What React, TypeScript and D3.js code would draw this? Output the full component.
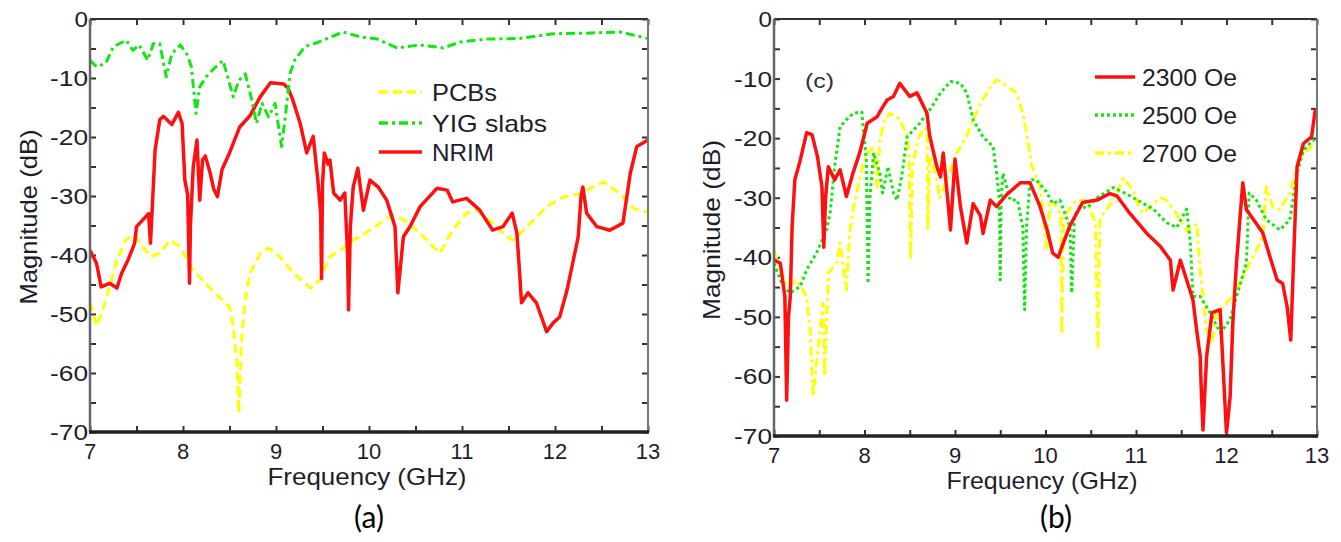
import React, { useEffect, useRef } from 'react'
import * as d3 from 'd3'

// panel (a) series: [GHz, dB]
const pcbsA: [number, number][] = [
  [7, -48], [7.07, -52], [7.14, -49.3], [7.21, -45.4], [7.29, -40.8], [7.38, -37.5], [7.47, -36.5],
  [7.54, -38], [7.65, -40.3], [7.75, -39.7], [7.86, -37.5], [7.97, -38.6], [8.08, -42], [8.24, -44.8],
  [8.38, -47], [8.5, -48.8], [8.54, -52], [8.58, -58.4], [8.6, -66.8], [8.63, -54.4], [8.67, -47.6],
  [8.72, -43.1], [8.83, -39.7], [8.92, -38.8], [9.04, -40.3], [9.19, -43.1], [9.37, -45.6], [9.47, -44.2],
  [9.58, -40.3], [9.69, -39.2], [9.83, -37.5], [10.01, -35.8], [10.25, -33.2], [10.37, -34], [10.55, -36.3],
  [10.69, -38.6], [10.76, -39.7], [10.9, -35.8], [11.05, -32.9], [11.16, -32.4], [11.33, -34.6],
  [11.48, -36.9], [11.55, -37.5], [11.7, -35.2], [11.91, -31.8], [12.09, -30.2], [12.27, -29.6],
  [12.52, -27.6], [12.7, -29.6], [12.84, -32.1], [13, -32.7],
]
const yigA: [number, number][] = [
  [7, -7], [7.07, -8.1], [7.17, -7.5], [7.25, -4.7], [7.39, -3.6], [7.46, -5.3], [7.53, -4.4], [7.62, -7],
  [7.68, -4.2], [7.75, -4.2], [7.82, -9.8], [7.88, -5.9], [7.97, -4.4], [8.04, -5.9], [8.09, -8.1],
  [8.14, -16], [8.18, -11.5], [8.25, -9.8], [8.32, -8.6], [8.43, -7], [8.5, -10.9], [8.54, -13.2],
  [8.6, -10.4], [8.67, -9.3], [8.74, -13.7], [8.79, -17.7], [8.85, -14.3], [8.92, -16.6], [8.99, -14.3],
  [9.06, -21.6], [9.1, -16.6], [9.15, -9.3], [9.2, -7], [9.31, -4.7], [9.46, -3.9], [9.6, -3], [9.72, -2.2],
  [9.9, -3], [10.09, -3.4], [10.3, -4.9], [10.55, -4.4], [10.8, -4.9], [10.98, -3.9], [11.27, -3.4],
  [11.62, -3.3], [11.98, -2.5], [12.34, -2.4], [12.7, -2.2], [13, -3.3],
]
const nrimA: [number, number][] = [
  [7, -39.2], [7.07, -41.4], [7.12, -45.4], [7.21, -44.8], [7.29, -45.6], [7.34, -43.1], [7.41, -40.8],
  [7.48, -38], [7.5, -35.2], [7.57, -34], [7.63, -33], [7.65, -38], [7.67, -31.8], [7.7, -22.2], [7.75, -17.1],
  [7.79, -16.5], [7.88, -17.9], [7.95, -15.8], [7.99, -17.7], [8.02, -27.3], [8.05, -29.8], [8.07, -44.8],
  [8.08, -35], [8.11, -25.1], [8.15, -20.5], [8.18, -30.7], [8.21, -23.9], [8.24, -23.2], [8.29, -26],
  [8.33, -28.8], [8.37, -30.1], [8.42, -25.5], [8.5, -22.7], [8.61, -18.3], [8.72, -16.4], [8.83, -13.2],
  [8.94, -10.8], [9.08, -11], [9.13, -11.7], [9.18, -13.7], [9.26, -17.7], [9.33, -22.7], [9.4, -19.9],
  [9.45, -27.3], [9.48, -32.9], [9.49, -44], [9.5, -28], [9.52, -22.7], [9.56, -24.6], [9.58, -23.9],
  [9.62, -29.5], [9.69, -30.7], [9.74, -29.5], [9.77, -40], [9.78, -49.3], [9.8, -35], [9.83, -28.5],
  [9.88, -25.3], [9.94, -32.4], [10.01, -27.3], [10.1, -28.5], [10.19, -30.7], [10.28, -35.2], [10.31, -46.4],
  [10.37, -36.9], [10.44, -35.2], [10.55, -31.8], [10.73, -28.7], [10.84, -29], [10.9, -31], [11.05, -30.4],
  [11.19, -32.4], [11.33, -35.8], [11.44, -35.2], [11.54, -32.9], [11.59, -36.3], [11.62, -43.1],
  [11.64, -48.1], [11.71, -46.4], [11.8, -48.1], [11.91, -53], [11.98, -51.5], [12.05, -50.5], [12.13, -45.9],
  [12.19, -41.4], [12.25, -36.9], [12.28, -30], [12.3, -28.5], [12.34, -32.9], [12.45, -35.2], [12.59, -35.8],
  [12.73, -34.6], [12.81, -26.1], [12.88, -21.6], [13, -20.5],
]

// panel (b) series
const oe2300: [number, number][] = [
  [7, -40.4], [7.07, -41], [7.12, -46.6], [7.14, -64], [7.16, -50], [7.18, -46.6], [7.2, -34.9], [7.23, -27],
  [7.29, -23.7], [7.36, -19.1], [7.42, -19.4], [7.48, -23.1], [7.53, -28.2], [7.55, -38.3], [7.57, -30],
  [7.6, -24.8], [7.67, -27], [7.73, -25.3], [7.8, -29.8], [7.87, -26], [7.95, -22.3], [8.03, -17.5],
  [8.14, -16.4], [8.2, -14.8], [8.25, -13.6], [8.32, -13], [8.39, -10.8], [8.5, -13], [8.58, -12.4],
  [8.69, -15.8], [8.72, -19.6], [8.8, -24.8], [8.84, -26.5], [8.87, -22.5], [8.92, -30.4], [8.95, -35.4],
  [9, -23.5], [9.06, -31.5], [9.13, -37.6], [9.2, -31], [9.28, -33], [9.31, -36], [9.39, -30.4],
  [9.46, -31.5], [9.57, -29.5], [9.72, -27.5], [9.83, -27.5], [9.94, -31.5], [10.02, -35.5], [10.08, -39.3],
  [10.14, -40], [10.2, -37.5], [10.27, -34.7], [10.41, -30.8], [10.57, -30.4], [10.71, -29.3], [10.79, -29.7],
  [10.93, -32.6], [11.12, -36], [11.27, -38.2], [11.38, -40.5], [11.41, -45.5], [11.49, -40.5],
  [11.56, -43.8], [11.63, -47.2], [11.67, -52.2], [11.71, -56.7], [11.72, -61.7],
  [11.74, -69], [11.78, -56.7], [11.84, -49.3], [11.93, -48.8], [11.96, -57.7], [12, -69.5], [12.04, -63.4],
  [12.07, -51], [12.11, -41], [12.15, -33.2], [12.18, -27.5], [12.22, -32], [12.29, -33.5], [12.4, -35.9],
  [12.48, -39.9], [12.56, -43.8], [12.62, -44.4], [12.67, -48.3], [12.71, -53.9], [12.74, -41], [12.76, -32.6],
  [12.78, -24.8], [12.85, -20.9], [12.94, -19.8], [12.98, -15.3], [13, -16],
]
const oe2500: [number, number][] = [
  [7, -41], [7.1, -44.9], [7.18, -46], [7.29, -44.9], [7.36, -42.1], [7.47, -39.3], [7.58, -35.4],
  [7.62, -32.6], [7.67, -24.8], [7.73, -18.1], [7.8, -16.9], [7.88, -15.8], [7.97, -15.6], [8.02, -23.7],
  [8.04, -44.4], [8.06, -30], [8.1, -22.5], [8.17, -25.9], [8.2, -29.2], [8.26, -24.8], [8.32, -29.2],
  [8.36, -30.4], [8.41, -26.5], [8.47, -19.8], [8.61, -17.5], [8.72, -15.3], [8.84, -12.4], [8.95, -10.5],
  [9.06, -10.8], [9.13, -12.4], [9.2, -16.9], [9.31, -19.8], [9.42, -21.4], [9.46, -25.9], [9.49, -30.4],
  [9.5, -43.8], [9.51, -30], [9.53, -25.9], [9.61, -30.4], [9.69, -30.4], [9.75, -35], [9.77, -48.8],
  [9.79, -35], [9.83, -27], [9.9, -27], [10.01, -29], [10.08, -31], [10.16, -30.4], [10.27, -34.9],
  [10.29, -46], [10.32, -33], [10.38, -31.5], [10.46, -31.7], [10.57, -30], [10.75, -28.3], [10.9, -29.4],
  [11.04, -30.6], [11.19, -31.9], [11.34, -34.2], [11.45, -35], [11.56, -31.9], [11.6, -37.5],
  [11.63, -46.6], [11.71, -46.6], [11.82, -49.3], [11.93, -52.7], [12.04, -50.5], [12.11, -46.6], [12.22, -41],
  [12.25, -29.2], [12.33, -30.4], [12.44, -33.7], [12.59, -35.4], [12.7, -33.7], [12.78, -25.9],
  [12.85, -22], [12.96, -20.3], [13, -20.9],
]
const oe2700: [number, number][] = [
  [7, -38.8], [7.07, -42.1], [7.14, -44.9], [7.25, -43.8], [7.36, -46.6], [7.4, -52.2], [7.43, -63.4],
  [7.47, -57.7], [7.51, -52.2], [7.54, -47.7], [7.56, -60], [7.6, -42.7], [7.69, -41], [7.73, -37.6],
  [7.8, -45.5], [7.84, -35.4], [7.88, -31.5], [7.98, -24.6], [8.03, -22.5], [8.1, -21.6], [8.14, -28.2],
  [8.17, -20.3], [8.22, -17], [8.28, -15.8], [8.39, -16.8], [8.47, -19.6], [8.49, -22], [8.51, -40.4],
  [8.53, -24.8], [8.59, -20.3], [8.65, -18.3], [8.69, -18.6], [8.7, -35.4], [8.72, -23], [8.76, -24.8],
  [8.8, -27], [8.83, -30], [8.91, -27], [9.02, -22.5], [9.13, -19.6], [9.28, -14.1], [9.39, -11.5],
  [9.46, -10.2], [9.5, -10.5], [9.68, -12.4], [9.75, -15.8], [9.8, -20], [9.85, -24.8], [9.9, -26.5], [9.94, -28.2],
  [9.97, -32], [10.01, -38.8], [10.05, -30.4], [10.12, -31.5], [10.17, -33], [10.18, -53], [10.2, -33],
  [10.23, -32.6], [10.34, -30.4], [10.45, -30.5], [10.55, -34], [10.58, -55.5], [10.6, -34], [10.64, -32.6],
  [10.75, -30.4], [10.86, -26.7], [10.97, -28.7], [11.04, -31.9], [11.08, -32.6], [11.27, -30], [11.34, -30.4],
  [11.45, -32.8], [11.56, -35.6], [11.67, -34.4], [11.71, -42.1], [11.78, -52.2], [11.84, -54.4],
  [11.89, -49.3], [12, -47.7], [12.11, -45.5], [12.22, -42], [12.33, -38.8], [12.4, -36.5], [12.44, -28.2],
  [12.51, -31.5], [12.59, -32], [12.7, -29.2], [12.78, -24.8], [12.85, -22.5], [12.94, -21.4], [13, -22],
]

const xTicks = [7, 8, 9, 10, 11, 12, 13]
const yTicks = [0, -10, -20, -30, -40, -50, -60, -70]

const RED = '#ff1010'
const GREEN = '#14e614'
const YELLOW = '#ffff00'

const FONT = "'Liberation Sans', Arial, sans-serif"

type Series = { name: string, data: [number, number][], color: string, dash: string | null, width: number }

const panels = [
  {
    id: 'a', left: 90, right: 648, top: 19, bottom: 432,
    series: [
      { name: 'PCBs', data: pcbsA, color: YELLOW, dash: '9,5', width: 3 },
      { name: 'YIG slabs', data: yigA, color: GREEN, dash: '9,4,3,4', width: 3 },
      { name: 'NRIM', data: nrimA, color: RED, dash: null, width: 3.5 },
    ] as Series[],
    drawOrder: [0, 2, 1],
    legend: { x1: 379, x2: 422, tx: 432, rows: [92, 123, 152], widths: [65, 115, 62] },
    xTitle: { cx: 367, y: 485, len: 199 },
    yTitle: { cx: 28, cy: 217, len: 175 },
    caption: { cx: 369, y: 528, text: '(a)' },
    tickBase: 27,
  },
  {
    id: 'b', left: 774, right: 1317, top: 19, bottom: 436,
    series: [
      { name: '2300 Oe', data: oe2300, color: RED, dash: null, width: 3.5 },
      { name: '2500 Oe', data: oe2500, color: GREEN, dash: '3,3', width: 3 },
      { name: '2700 Oe', data: oe2700, color: YELLOW, dash: '9,4,3,4', width: 3 },
    ] as Series[],
    drawOrder: [2, 1, 0],
    legend: { x1: 1095, x2: 1135, tx: 1142, rows: [77, 115, 153], widths: [95, 95, 95] },
    xTitle: { cx: 1042, y: 489, len: 191 },
    yTitle: { cx: 711, cy: 230, len: 180 },
    caption: { cx: 1056, y: 528, text: '(b)' },
    tickBase: 27,
  },
]

export default function App() {
  const ref = useRef<SVGSVGElement>(null)

  useEffect(() => {
    const svg = d3.select(ref.current)
    svg.selectAll('*').remove()
    svg.append('rect').attr('width', 1341).attr('height', 542).attr('fill', '#fff')

    panels.forEach(p => {
      const x = d3.scaleLinear().domain([7, 13]).range([p.left, p.right])
      const y = d3.scaleLinear().domain([-70, 0]).range([p.bottom, p.top])
      const g = svg.append('g')

      // clip for the curves
      const clipId = 'clip-' + p.id
      svg.append('clipPath').attr('id', clipId)
        .append('rect')
        .attr('x', p.left).attr('y', p.top - 2)
        .attr('width', p.right - p.left).attr('height', p.bottom - p.top + 4)

      // minor ticks (inward) every 0.5 GHz and 5 dB
      const xMinor = d3.range(7, 13.001, 0.5)
      const yMinor = d3.range(-70, 0.001, 5)
      g.append('g').attr('transform', `translate(0,${p.bottom})`)
        .call(d3.axisBottom(x).tickValues(xMinor).tickSize(-6).tickFormat(() => ''))
        .call(a => a.select('.domain').remove())
      g.append('g').attr('transform', `translate(0,${p.top})`)
        .call(d3.axisTop(x).tickValues(xMinor).tickSize(-6).tickFormat(() => ''))
        .call(a => a.select('.domain').remove())
      g.append('g').attr('transform', `translate(${p.left},0)`)
        .call(d3.axisLeft(y).tickValues(yMinor).tickSize(-6).tickFormat(() => ''))
        .call(a => a.select('.domain').remove())
      g.append('g').attr('transform', `translate(${p.right},0)`)
        .call(d3.axisRight(y).tickValues(yMinor).tickSize(-6).tickFormat(() => ''))
        .call(a => a.select('.domain').remove())
      g.selectAll('.tick line').attr('stroke', '#333').attr('stroke-width', 2)

      // curves
      const line = d3.line<[number, number]>()
        .x(d => x(d[0]))
        .y(d => y(d[1]))
      const curves = svg.append('g').attr('clip-path', `url(#${clipId})`)
      p.drawOrder.forEach(i => {
        const s = p.series[i]
        curves.append('path')
          .datum(s.data)
          .attr('d', line)
          .attr('fill', 'none')
          .attr('stroke', s.color)
          .attr('stroke-width', s.width)
          .attr('stroke-linejoin', 'round')
          .attr('stroke-dasharray', s.dash)
      })

      // frame
      const fr = svg.append('g')
      fr.append('line').attr('x1', p.left).attr('x2', p.right).attr('y1', p.top).attr('y2', p.top)
        .attr('stroke', '#333').attr('stroke-width', 2)
      fr.append('line').attr('x1', p.right).attr('x2', p.right).attr('y1', p.top).attr('y2', p.bottom)
        .attr('stroke', '#777').attr('stroke-width', 2)
      fr.append('line').attr('x1', p.left).attr('x2', p.left).attr('y1', p.top).attr('y2', p.bottom)
        .attr('stroke', '#666').attr('stroke-width', 2.5)
      fr.append('line').attr('x1', p.left - 1).attr('x2', p.right + 1).attr('y1', p.bottom).attr('y2', p.bottom)
        .attr('stroke', '#222').attr('stroke-width', 3.5)

      // tick labels
      const lab = svg.append('g').style('font-family', FONT).style('font-size', '22px').attr('fill', '#1e1e2a')
      xTicks.forEach(t => {
        lab.append('text').attr('x', x(t)).attr('y', p.bottom + p.tickBase)
          .attr('text-anchor', 'middle').text(t)
      })
      yTicks.forEach(t => {
        const s = String(t)
        const len = (t < 0 ? 11 : 0) + s.replace('-', '').length * 13.5
        lab.append('text').attr('x', p.left - 2 - len).attr('y', y(t) + 8)
          .attr('textLength', len).attr('lengthAdjust', 'spacingAndGlyphs')
          .text(s)
      })

      // axis titles
      svg.append('text')
        .attr('x', p.xTitle.cx).attr('y', p.xTitle.y)
        .attr('text-anchor', 'middle')
        .attr('textLength', p.xTitle.len).attr('lengthAdjust', 'spacingAndGlyphs')
        .style('font-family', FONT).style('font-size', '24px').attr('fill', '#1e1e2a')
        .text('Frequency (GHz)')
      svg.append('text')
        .attr('transform', `translate(${p.yTitle.cx + 9},${p.yTitle.cy})rotate(-90)`)
        .attr('text-anchor', 'middle')
        .attr('textLength', p.yTitle.len).attr('lengthAdjust', 'spacingAndGlyphs')
        .style('font-family', FONT).style('font-size', '24px').attr('fill', '#1e1e2a')
        .text('Magnitude (dB)')

      // legend
      p.series.forEach((s, i) => {
        const ly = p.legend.rows[i]
        svg.append('line')
          .attr('x1', p.legend.x1).attr('x2', p.legend.x2).attr('y1', ly).attr('y2', ly)
          .attr('stroke', s.color).attr('stroke-width', 3.5)
          .attr('stroke-dasharray', s.dash)
        svg.append('text')
          .attr('x', p.legend.tx).attr('y', ly + 9)
          .attr('textLength', p.legend.widths[i]).attr('lengthAdjust', 'spacingAndGlyphs')
          .style('font-family', FONT).style('font-size', '24px').attr('fill', '#1e1e2a')
          .text(s.name)
      })

      // caption under panel
      svg.append('text')
        .attr('x', p.caption.cx).attr('y', p.caption.y)
        .attr('text-anchor', 'middle')
        .style('font-family', "Lato, 'Open Sans', sans-serif").style('font-size', '30px').attr('fill', '#000')
        .text(p.caption.text)
    })

    // inner label of panel (b)
    svg.append('text')
      .attr('x', 805).attr('y', 88)
      .attr('textLength', 29).attr('lengthAdjust', 'spacingAndGlyphs')
      .style('font-family', FONT).style('font-size', '20px').attr('fill', '#333')
      .text('(c)')
  }, [])

  return (
    <div style={{ position: 'absolute', left: 0, top: 0, width: 1341, height: 542, background: '#fff' }}>
      <svg ref={ref} width="1341" height="542" style={{ display: 'block' }}></svg>
    </div>
  )
}
